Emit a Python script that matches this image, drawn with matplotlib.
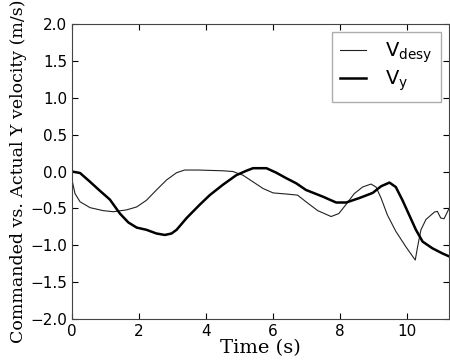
import matplotlib
matplotlib.use("Agg")
import matplotlib.pyplot as plt

t_des = [0.0, 0.09, 0.24, 0.54, 0.93, 1.23, 1.63, 1.93, 2.22, 2.52, 2.82, 3.12, 3.36, 3.76,
         4.5, 4.8, 5.1, 5.4, 5.7, 6.0, 6.39, 6.73, 6.98, 7.33, 7.73, 7.96, 8.17, 8.42, 8.67,
         8.92, 9.07, 9.22, 9.41, 9.66, 9.96, 10.24, 10.31, 10.41, 10.56, 10.81, 10.9, 11.0,
         11.1, 11.25]
v_des = [-0.115, -0.30, -0.41, -0.49, -0.53, -0.545, -0.52, -0.48, -0.39, -0.25, -0.115, -0.016,
         0.02, 0.02, 0.01, 0.0, -0.05, -0.14, -0.23, -0.29, -0.305, -0.32, -0.41, -0.53, -0.61,
         -0.57, -0.45, -0.30, -0.21, -0.17, -0.21, -0.36, -0.59, -0.81, -1.02, -1.2, -1.02,
         -0.79, -0.65, -0.55, -0.54, -0.63, -0.64, -0.50]

t_act = [0.0, 0.24, 0.54, 0.83, 1.13, 1.43, 1.68, 1.93, 2.22, 2.52, 2.77, 2.97, 3.12, 3.42,
         3.81, 4.11, 4.5, 4.9, 5.2, 5.4, 5.8, 6.09, 6.39, 6.69, 6.98, 7.48, 7.88, 8.18, 8.57,
         8.97, 9.22, 9.47, 9.66, 9.86, 10.06, 10.26, 10.46, 10.75, 11.05, 11.25]
v_act = [0.0, -0.02, -0.14, -0.26, -0.38, -0.57, -0.69, -0.76, -0.79, -0.84, -0.86, -0.84,
         -0.79, -0.63, -0.45, -0.32, -0.18, -0.05, 0.01, 0.045, 0.045, -0.015, -0.09, -0.16,
         -0.25, -0.34, -0.42, -0.42, -0.36, -0.29, -0.20, -0.15, -0.21, -0.39, -0.59, -0.79,
         -0.95, -1.04, -1.11, -1.15]

fig = plt.figure(figsize=(4.5, 3.63), dpi=100)
ax = fig.add_axes([0.16, 0.121, 0.838, 0.813])
ax.plot(t_des, v_des, color='#222222', lw=0.8, label=r'$\mathrm{V_{desy}}$')
ax.plot(t_act, v_act, color='black', lw=1.8, label=r'$\mathrm{V_{y}}$')
ax.set_xlim(0, 11.25)
ax.set_ylim(-2.0, 2.0)
ax.set_xticks([0, 2, 4, 6, 8, 10])
ax.set_yticks([-2.0, -1.5, -1.0, -0.5, 0.0, 0.5, 1.0, 1.5, 2.0])
ax.tick_params(direction='in', top=True, right=True, labelsize=11, length=4)
for s in ax.spines.values():
    s.set_color('#444444')
ax.set_xlabel('Time (s)', family='DejaVu Serif', fontsize=14, labelpad=0)
ax.set_ylabel('Commanded vs. Actual Y velocity (m/s)', family='DejaVu Serif', fontsize=12.5, labelpad=2)
leg = ax.legend(loc='upper right', fontsize=14, fancybox=False, borderaxespad=0.4,
                handlelength=1.3, handletextpad=1.0, labelspacing=0.2, borderpad=0.45)
leg.get_frame().set_edgecolor('#999999')
fig.savefig('out.png', dpi=100)
